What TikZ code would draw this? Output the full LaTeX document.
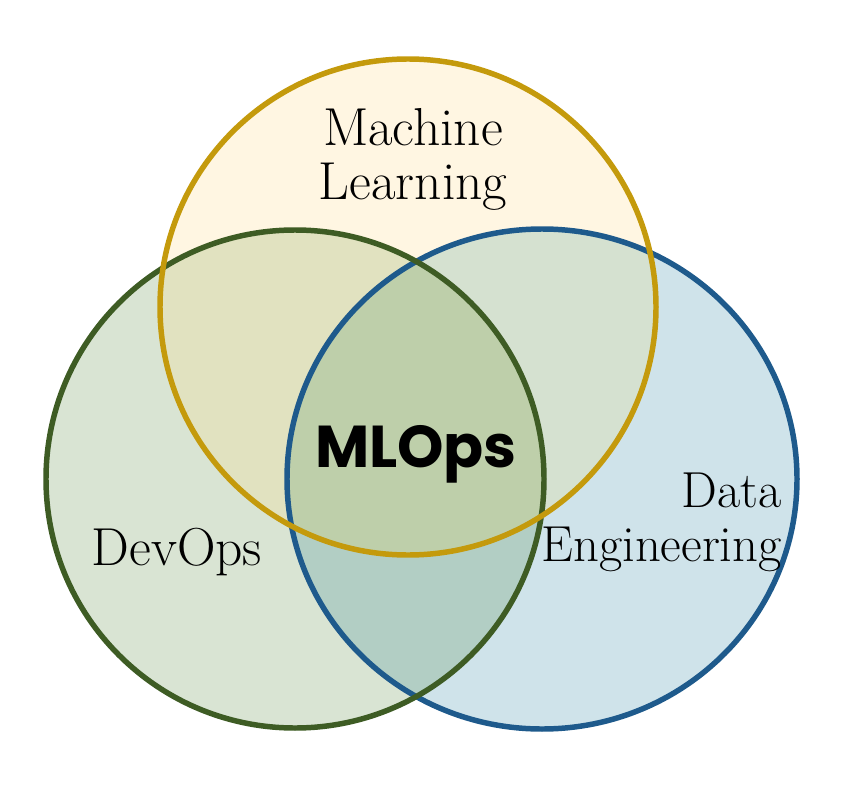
\documentclass[tikz,border=0pt]{standalone}
\usepackage{fontspec}
\newfontfamily\mlopsfont{Poppins}
\usetikzlibrary{positioning}

\definecolor{mlline}{RGB}{196,154,12}
\definecolor{mlfill}{RGB}{255,246,226}
\definecolor{devline}{RGB}{62,92,36}
\definecolor{devfill}{RGB}{217,228,211}
\definecolor{deline}{RGB}{30,90,140}
\definecolor{defill}{RGB}{207,227,234}
\definecolor{mldevfill}{RGB}{225,226,192}
\definecolor{mldefill}{RGB}{213,225,208}
\definecolor{devdefill}{RGB}{178,206,196}
\definecolor{allfill}{RGB}{190,207,170}

\begin{document}
\begin{tikzpicture}[
    x=0.025cm, y=-0.025cm,
    ring/.style={line width=3.9pt},
    label/.style={inner sep=0pt, align=center, font=\fontsize{38}{38.4}\selectfont},
    core/.style={inner sep=0pt, font=\mlopsfont\bfseries\fontsize{42}{46}\selectfont}
]
\useasboundingbox (0,0) rectangle (854,794);

% Circle geometry
\def\mlpath{(408,307) circle (248)}
\def\devpath{(295,479) circle (249)}
\def\depath{(542,479) ellipse (255 and 250)}

% Single fills
\fill[mlfill] \mlpath;
\fill[devfill] \devpath;
\fill[defill] \depath;

% Pairwise overlaps
\begin{scope}
  \clip \mlpath;
  \fill[mldevfill] \devpath;
  \fill[mldefill] \depath;
\end{scope}
\begin{scope}
  \clip \devpath;
  \fill[devdefill] \depath;
\end{scope}

% Centre overlap
\begin{scope}
  \clip \mlpath;
  \clip \devpath;
  \fill[allfill] \depath;
\end{scope}

% Outlines
\draw[ring, deline] \depath;
\draw[ring, devline] \devpath;
\draw[ring, mlline] \mlpath;

% Labels
\node[label] (ml) at (413,159) {Machine\\Learning};
\node[label, anchor=base] (dev) at (177,565) {DevOps};
\node[label, align=right, anchor=east, font=\fontsize{36}{38.4}\selectfont] (de) at (782,522) {Data\\Engineering};
\node[core, anchor=base] (mlops) at (416,467) {MLOps};

\end{tikzpicture}
\end{document}
